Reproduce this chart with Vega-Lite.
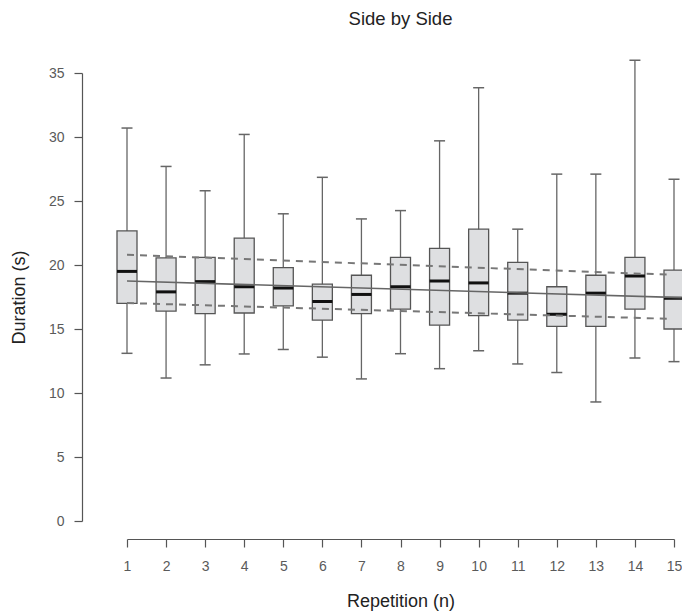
{
  "$schema": "https://vega.github.io/schema/vega-lite/v6.json",
  "autosize": "none",
  "width": 547,
  "height": 448,
  "padding": {"left": 127, "top": 73, "right": 8, "bottom": 92},
  "background": "white",
  "config": {
    "view": {"stroke": null},
    "font": "Liberation Sans",
    "axis": {"grid": false, "domainColor": "#555", "tickColor": "#555", "labelColor": "#5a5a5a", "titleColor": "#222", "labelFont": "Liberation Sans", "titleFont": "Liberation Sans", "labelFontSize": 14, "titleFontSize": 18, "titleFontWeight": "normal", "tickSize": 8, "domainWidth": 1.2, "tickWidth": 1.2, "labelOverlap": false}
  },
  "title": {"text": "Side by Side", "fontSize": 18.5, "fontWeight": "normal", "color": "#222", "font": "Liberation Sans", "anchor": "middle", "offset": 31},
  "datasets": {
    "boxes": [
      {"rep": 1, "lower": 13.1, "q1": 17.0, "median": 19.5, "q3": 22.66, "upper": 30.7},
      {"rep": 2, "lower": 11.17, "q1": 16.4, "median": 17.9, "q3": 20.55, "upper": 27.7},
      {"rep": 3, "lower": 12.2, "q1": 16.2, "median": 18.7, "q3": 20.6, "upper": 25.8},
      {"rep": 4, "lower": 13.05, "q1": 16.25, "median": 18.3, "q3": 22.1, "upper": 30.2},
      {"rep": 5, "lower": 13.4, "q1": 16.8, "median": 18.2, "q3": 19.8, "upper": 24.0},
      {"rep": 6, "lower": 12.8, "q1": 15.7, "median": 17.15, "q3": 18.5, "upper": 26.85},
      {"rep": 7, "lower": 11.1, "q1": 16.2, "median": 17.7, "q3": 19.2, "upper": 23.6},
      {"rep": 8, "lower": 13.07, "q1": 16.55, "median": 18.3, "q3": 20.6, "upper": 24.25},
      {"rep": 9, "lower": 11.9, "q1": 15.3, "median": 18.75, "q3": 21.3, "upper": 29.7},
      {"rep": 10, "lower": 13.3, "q1": 16.05, "median": 18.6, "q3": 22.8, "upper": 33.85},
      {"rep": 11, "lower": 12.27, "q1": 15.7, "median": 17.8, "q3": 20.2, "upper": 22.8},
      {"rep": 12, "lower": 11.6, "q1": 15.2, "median": 16.15, "q3": 18.3, "upper": 27.1},
      {"rep": 13, "lower": 9.3, "q1": 15.2, "median": 17.8, "q3": 19.2, "upper": 27.1},
      {"rep": 14, "lower": 12.73, "q1": 16.55, "median": 19.15, "q3": 20.6, "upper": 36.0},
      {"rep": 15, "lower": 12.45, "q1": 15.0, "median": 17.4, "q3": 19.6, "upper": 26.7}
    ],
    "lines": [
      {"series": "fit", "rep": 1, "value": 18.75},
      {"series": "fit", "rep": 15.2, "value": 17.45},
      {"series": "upper", "rep": 1, "value": 20.8},
      {"series": "upper", "rep": 14.82, "value": 19.25},
      {"series": "lower", "rep": 1, "value": 17.03},
      {"series": "lower", "rep": 14.82, "value": 15.8}
    ]
  },
  "encoding": {
    "x": {"field": "rep", "type": "quantitative", "scale": {"domain": [1, 15], "nice": false, "zero": false, "padding": 0},
      "axis": {"title": "Repetition (n)", "values": [1,2,3,4,5,6,7,8,9,10,11,12,13,14,15], "tickCount": 15, "tickMinStep": 1, "labelOverlap": false, "labelBound": false, "labelFlush": false, "offset": 18, "labelPadding": 12, "titlePadding": 19}}
  },
  "layer": [
    {
      "data": {"name": "boxes"},
      "mark": {"type": "rule", "color": "#666", "strokeWidth": 1.3, "opacity": 1},
      "encoding": {
        "y": {"field": "lower", "type": "quantitative", "scale": {"domain": [0, 35], "nice": false, "zero": false, "padding": 0},
          "axis": {"title": "Duration (s)", "values": [0,5,10,15,20,25,30,35], "labelOverlap": false, "offset": 45, "labelPadding": 10, "titlePadding": 20}},
        "y2": {"field": "upper"}
      }
    },
    {
      "data": {"name": "boxes"},
      "mark": {"type": "tick", "orient": "horizontal", "color": "#666", "size": 11, "thickness": 1.5, "opacity": 1},
      "encoding": {
        "y": {"field": "upper", "type": "quantitative"}
      }
    },
    {
      "data": {"name": "boxes"},
      "mark": {"type": "tick", "orient": "horizontal", "color": "#666", "size": 11, "thickness": 1.5, "opacity": 1},
      "encoding": {
        "y": {"field": "lower", "type": "quantitative"}
      }
    },
    {
      "data": {"name": "boxes"},
      "mark": {"type": "bar", "width": 20, "fill": "#dedfe1", "stroke": "#555", "strokeWidth": 1.3, "opacity": 1},
      "encoding": {
        "y": {"field": "q1", "type": "quantitative"},
        "y2": {"field": "q3"}
      }
    },
    {
      "data": {"name": "boxes"},
      "mark": {"type": "tick", "orient": "horizontal", "color": "#111", "size": 20, "thickness": 3, "opacity": 1},
      "encoding": {
        "y": {"field": "median", "type": "quantitative"}
      }
    },
    {
      "data": {"name": "lines"},
      "transform": [{"filter": "datum.series === 'fit'"}],
      "mark": {"type": "line", "color": "#666", "strokeWidth": 1.6},
      "encoding": {
        "y": {"field": "value", "type": "quantitative"}
      }
    },
    {
      "data": {"name": "lines"},
      "transform": [{"filter": "datum.series !== 'fit'"}],
      "mark": {"type": "line", "color": "#777", "strokeWidth": 2, "strokeDash": [7, 6]},
      "encoding": {
        "y": {"field": "value", "type": "quantitative"},
        "detail": {"field": "series"}
      }
    }
  ]
}
